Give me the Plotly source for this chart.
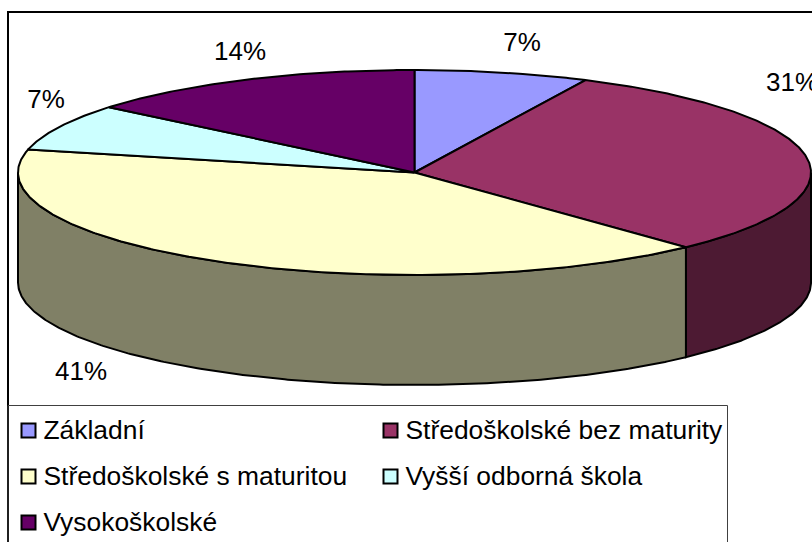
import numpy as np
import plotly.graph_objects as go

categories = ["Základní", "Středoškolské bez maturity", "Středoškolské s maturitou",
              "Vyšší odborná škola", "Vysokoškolské"]
values = [7.1, 30.9, 40.6, 7.4, 14.0]
top_colors = ["#9999FF", "#993366", "#FFFFCC", "#CCFFFF", "#660066"]
side_colors = ["#4D4D80", "#4D1A33", "#808066", "#668080", "#330033"]

CX, CY, RX, RY, DEPTH = 414.5, 172.5, 396.5, 102.5, 110
label_xy = [(522, 44), (792, 84), (81, 373), (46, 101), (240, 53)]
legend_xy = [(28.5, 430.5), (390.5, 430.5), (28.5, 476.5), (390.5, 476.5), (28.5, 522.5)]
LEGEND_TEXT_DX, LEGEND_TEXT_DY = 15, 2
FONT = "Liberation Sans, Arial, sans-serif"


def arc(a, b, dy=0.0):
    t = np.radians(np.linspace(a, b, max(int(abs(b - a) * 2), 2)))
    return CX + RX * np.sin(t), CY - RY * np.cos(t) + dy


edges = np.concatenate([[0], np.cumsum(values)]) / sum(values) * 360
fig = go.Figure()
line = dict(color="black", width=2)

# Front walls: only the part of each slice between 90 and 270 degrees is visible
for i in range(len(values)):
    a, b = max(edges[i], 90), min(edges[i + 1], 270)
    if b <= a:
        continue
    x1, y1 = arc(a, b)
    x2, y2 = arc(b, a, DEPTH)
    fig.add_trace(go.Scatter(x=np.r_[x1, x2, x1[0]], y=np.r_[y1, y2, y1[0]], mode="lines",
                             fill="toself", fillcolor=side_colors[i], line=line, hoverinfo="skip"))

# Top faces
for i in range(len(values)):
    x1, y1 = arc(edges[i], edges[i + 1])
    fig.add_trace(go.Scatter(x=np.r_[CX, x1, CX], y=np.r_[CY, y1, CY], mode="lines",
                             fill="toself", fillcolor=top_colors[i], line=line,
                             name=categories[i], hoverinfo="name"))

# Percentage labels
fig.add_trace(go.Scatter(x=[p[0] for p in label_xy], y=[p[1] for p in label_xy], mode="text",
                         text=[f"{v:.0f}%" for v in values], textposition="middle center",
                         textfont=dict(family=FONT, size=26, color="black"),
                         cliponaxis=False, hoverinfo="skip"))

# Legend swatches and texts
fig.add_trace(go.Scatter(x=[p[0] for p in legend_xy], y=[p[1] for p in legend_xy], mode="markers",
                         marker=dict(symbol="square", size=14, color=top_colors,
                                     line=dict(color="black", width=2)),
                         cliponaxis=False, hoverinfo="skip"))
fig.add_trace(go.Scatter(x=[p[0] + LEGEND_TEXT_DX for p in legend_xy],
                         y=[p[1] + LEGEND_TEXT_DY for p in legend_xy], mode="text",
                         text=categories, textposition="middle right",
                         textfont=dict(family=FONT, size=26.4, color="black"),
                         cliponaxis=False, hoverinfo="skip"))

fig.update_layout(
    width=812, height=542, margin=dict(l=0, r=0, t=0, b=0), autosize=False,
    showlegend=False, paper_bgcolor="white", plot_bgcolor="white",
    xaxis=dict(range=[0, 812], visible=False, fixedrange=True),
    yaxis=dict(range=[542, 0], visible=False, fixedrange=True),
    shapes=[
        dict(type="rect", x0=8, y0=12, x1=830, y1=560, line=dict(color="black", width=2), layer="below"),
        dict(type="rect", x0=8, y0=405.5, x1=727.5, y1=560, line=dict(color="#404040", width=1), layer="below"),
    ],
)
fig.write_html("out.html", config={"displayModeBar": False},
               post_script="document.body.style.margin='0';document.body.style.overflow='hidden';")
